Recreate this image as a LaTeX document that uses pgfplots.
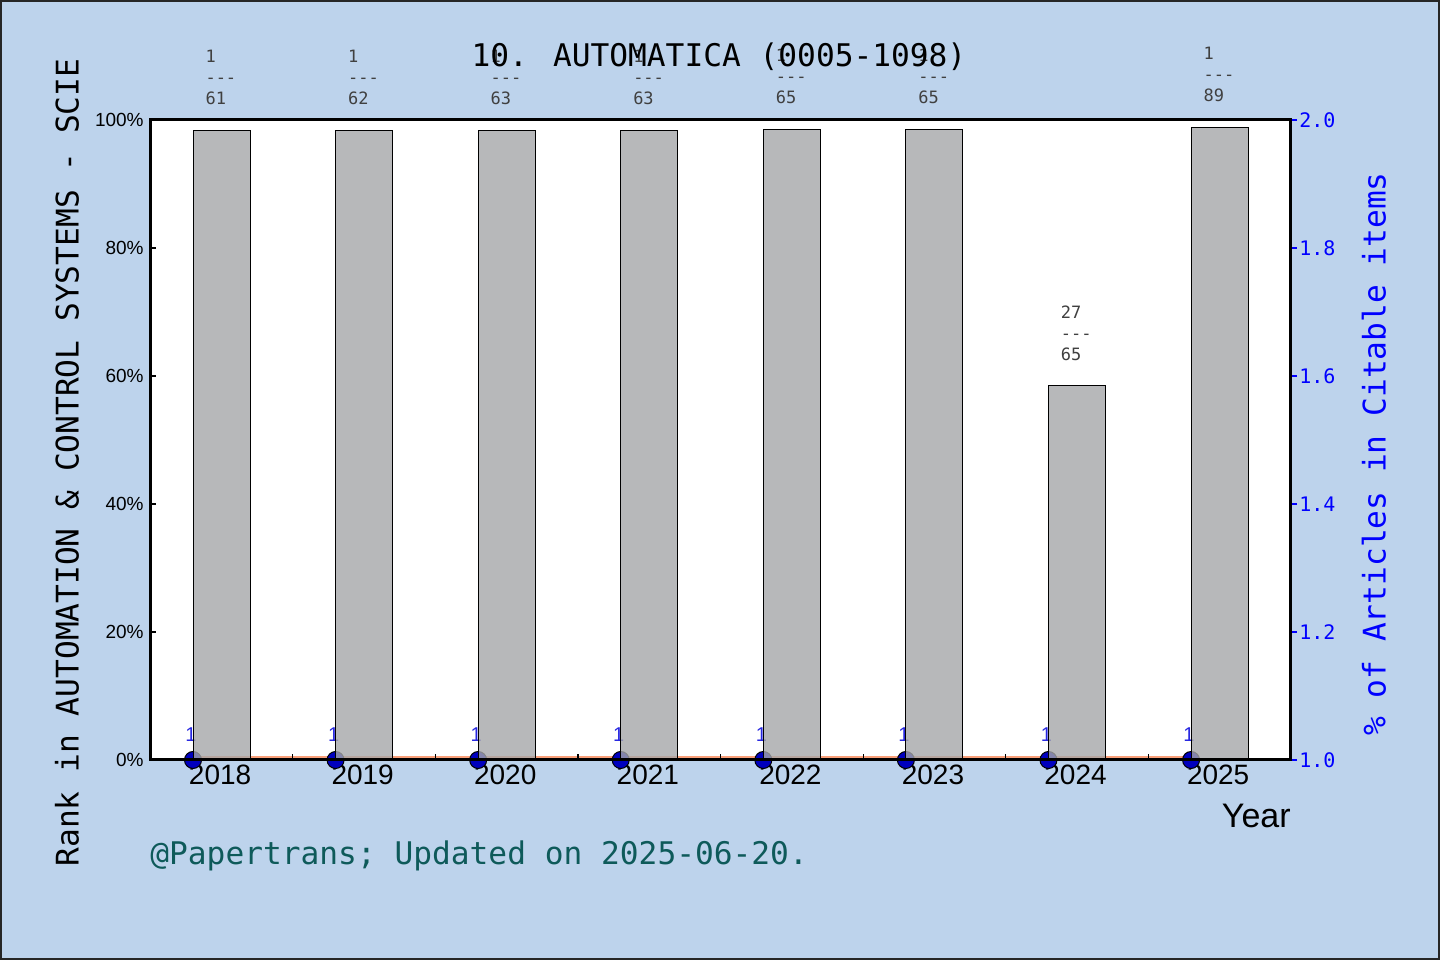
\documentclass[border=0pt]{standalone}
\usepackage{fontspec}
\setmainfont{Liberation Sans}
\newfontfamily\monofont{DejaVu Sans Mono}
\usepackage{pgfplots}
\pgfplotsset{compat=1.18}
\usepackage{pgfplotstable}
\definecolor{bgblue}{RGB}{189,211,236}
\definecolor{bargray}{RGB}{166,167,169}
\definecolor{salmon}{RGB}{250,160,122}
\definecolor{footteal}{RGB}{14,90,90}
\definecolor{labgray}{RGB}{64,64,64}
\definecolor{dotblue}{RGB}{0,0,190}
\definecolor{lblblue}{RGB}{40,40,225}

\pgfplotstableread{
x rank total pct
0 1 61 98.36
1 1 62 98.39
2 1 63 98.41
3 1 63 98.41
4 1 65 98.46
5 1 65 98.46
6 27 65 58.46
7 1 89 98.88
}\rankdata

\pgfplotstableread{
x val r
0 1.0 1
1 1.0 1
2 1.0 1
3 1.0 1
4 1.0 1
5 1.0 1
6 1.0 1
7 1.0 1
}\dotdata

\pgfplotstableread{
x val
0 1.0045
1 1.0045
2 1.0045
3 1.0045
4 1.0045
5 1.0045
6 1.0045
7 1.0045
}\linedata

\begin{document}
\begin{tikzpicture}
\useasboundingbox (0,0) rectangle (720bp,480bp);
\fill[bgblue] (0,0) rectangle (720bp,480bp);
\draw[black!85, line width=1bp] (0.5bp,0.5bp) rectangle (719.5bp,479.5bp);

% right axis (bottom layer)
\begin{axis}[
  at={(75bp,100bp)}, anchor=south west, scale only axis,
  width=570bp, height=320bp,
  xmin=-0.3016, xmax=7.694, ymin=1, ymax=2,
  axis background/.style={fill=white},
  axis line style={draw=none},
  clip=false,
  /pgf/number format/assume math mode=true,
  tick align=outside, major tick length=3.5bp,
  ytick pos=right,
  ytick={1,1.2,1.4,1.6,1.8,2},
  yticklabels={1.0,1.2,1.4,1.6,1.8,2.0},
  yticklabel style={text=blue, font=\monofont\fontsize{10bp}{12bp}\selectfont, inner sep=1bp},
  ytick style={blue, line width=0.6bp},
  xtick pos=bottom,
  xtick={0.19,1.19,2.19,3.19,4.19,5.19,6.19,7.19},
  xticklabels={2018,2019,2020,2021,2022,2023,2024,2025},
  xticklabel style={font=\fontsize{14bp}{16bp}\selectfont, inner sep=0pt, yshift=1bp},
  xtick style={draw=none},
]
\addplot[salmon, line width=1.25bp] table[x=x, y=val] {\linedata};
\addplot[only marks, mark=*, mark size=4.25bp,
  mark options={fill=dotblue, draw=black, line width=0.5bp},
  point meta=explicit,
  nodes near coords,
  every node near coord/.append style={anchor=center, yshift=12.5bp, xshift=-1bp,
     text=lblblue, font=\fontsize{10bp}{12bp}\selectfont, inner sep=0pt},
] table[x=x, y=val, meta=r] {\dotdata};
\end{axis}

% left axis (top layer)
\begin{axis}[
  at={(75bp,100bp)}, anchor=south west, scale only axis,
  width=570bp, height=320bp,
  xmin=-0.3016, xmax=7.694, ymin=0, ymax=100,
  axis on top, clip=false,
  /pgf/number format/assume math mode=true,
  axis line style={black, line width=1.5bp},
  tick align=inside, major tick length=3bp,
  tick style={black, line width=0.6bp},
  ytick pos=left,
  ytick={0,20,40,60,80,100},
  yticklabels={0\%,20\%,40\%,60\%,80\%,100\%},
  yticklabel style={font=\fontsize{9.5bp}{11bp}\selectfont, inner sep=3bp},
  xtick pos=bottom,
  xtick={0.7,1.7,2.7,3.7,4.7,5.7,6.7},
  xticklabels={},
]
\addplot[ybar, bar width=0.4, bar shift=0pt,
  fill=bargray, fill opacity=0.8, draw=black, line width=0.5bp,
  visualization depends on={\thisrow{rank}\as\rank},
  visualization depends on={\thisrow{total}\as\total},
  nodes near coords={\pgfmathprintnumber{\rank}\\---\\\pgfmathprintnumber{\total}},
  every node near coord/.append style={anchor=west, xshift=-8.25bp, yshift=26.5bp,
     align=left, inner sep=0pt, text=labgray, text opacity=1, fill opacity=1,
     font=\monofont\fontsize{8.5bp}{10.5bp}\selectfont},
] table[x expr=\thisrow{x}+0.2, y=pct] {\rankdata};
\end{axis}

\node[anchor=base, inner sep=0pt, font=\monofont\fontsize{15.6bp}{18bp}\selectfont] at (359.5bp,446.5bp) {10. AUTOMATICA (0005-1098)};
\node[anchor=base east, inner sep=0pt, font=\fontsize{17bp}{20bp}\selectfont] at (645.5bp,66bp) {Year};
\node[anchor=center, rotate=90, inner sep=0pt, font=\monofont\fontsize{15.6bp}{18bp}\selectfont] at (33.5bp,248.75bp) {Rank in AUTOMATION \& CONTROL SYSTEMS - SCIE};
\node[anchor=center, rotate=90, inner sep=0pt, text=blue, font=\monofont\fontsize{15.6bp}{18bp}\selectfont] at (687bp,253bp) {\% of Articles in Citable items};
\node[anchor=base west, inner sep=0pt, text=footteal, font=\monofont\fontsize{15.6bp}{18bp}\selectfont] at (75bp,47.5bp) {@Papertrans; Updated on 2025-06-20.};
\end{tikzpicture}
\end{document}
